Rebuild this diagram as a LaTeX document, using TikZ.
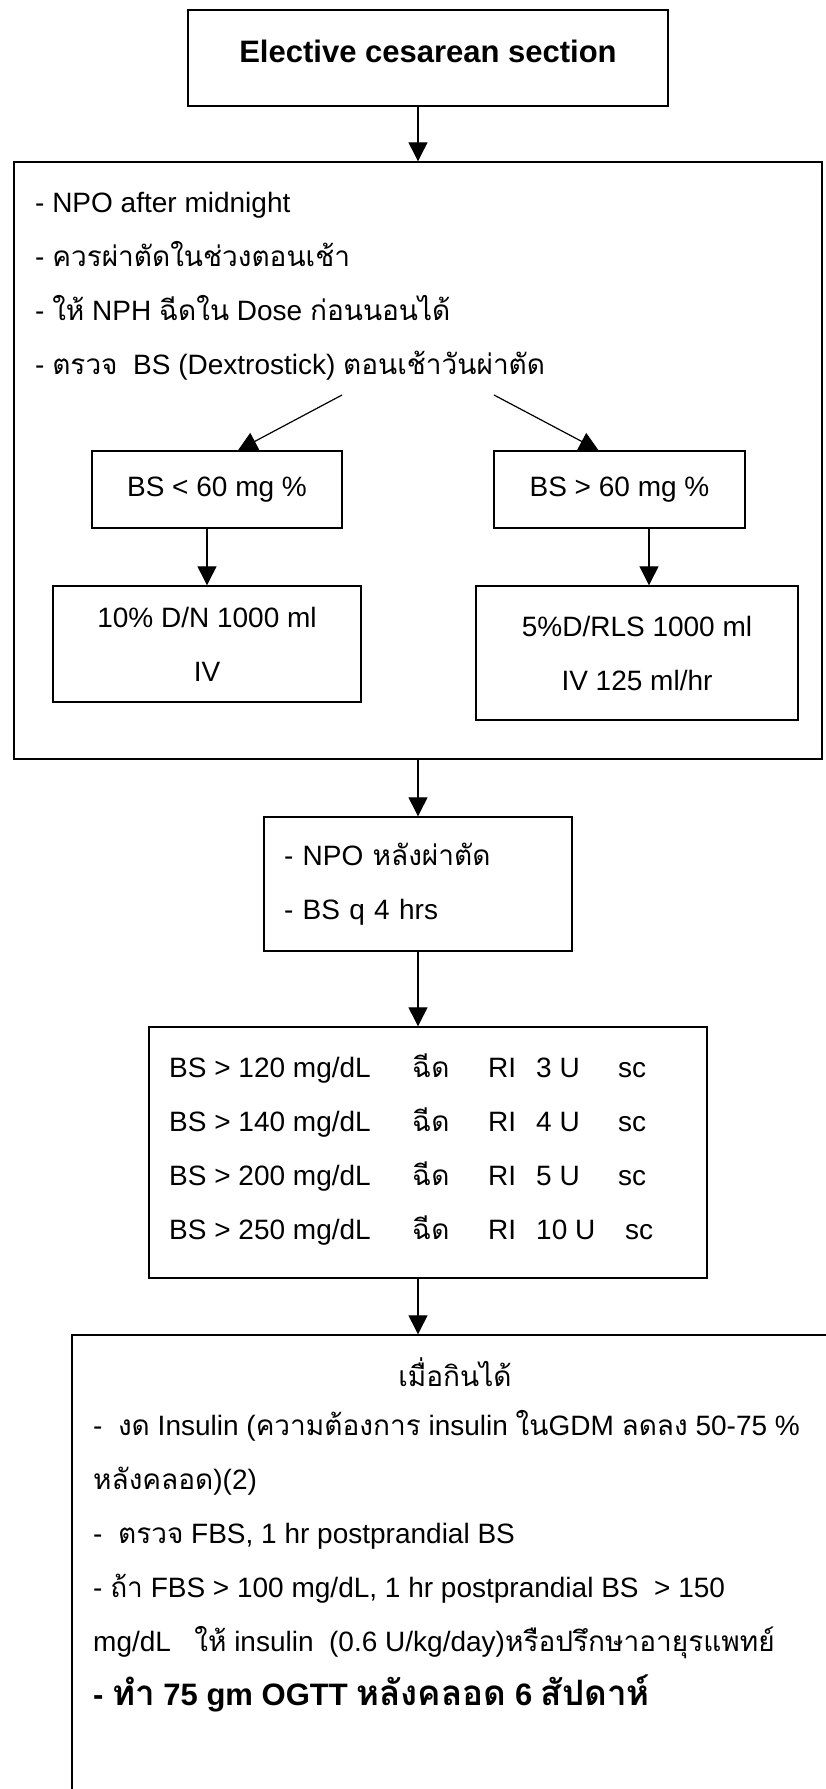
\documentclass[tikz,border=0pt]{standalone}
\usepackage{fontspec}
\setmainfont{Liberation Sans}
\newfontfamily\thaifont[Script=Thai]{Loma}
\newcommand\tha[1]{{\thaifont #1}}
\usetikzlibrary{arrows.meta,positioning}
\tikzset{
  box/.style={draw,line width=1.4pt,inner sep=0pt},
  txt/.style={anchor=west,align=left,inner sep=0pt},
  arr/.style={-{Triangle[width=19pt,length=19pt]},line width=1.2pt},
}
\begin{document}
\begin{tikzpicture}[x=1pt,y=-1pt,font=\fontsize{28}{54}\selectfont]
\useasboundingbox (0,0) rectangle (825,1789);
\node[box,minimum width=480pt,minimum height=96pt,text depth=14pt,font=\fontsize{31}{36}\selectfont\bfseries] (title) at (428,58) {Elective cesarean section};
\node[box,minimum width=808pt,minimum height=597pt] (pre) at (418,460.5) {};
\node[txt] (prelist) at (35,286) {- NPO after midnight\\- \tha{ควรผ่าตัดในช่วงตอนเช้า}\\- \tha{ให้} NPH \tha{ฉีดใน} Dose \tha{ก่อนนอนได้}\\- \tha{ตรวจ}\ \ BS (Dextrostick) \tha{ตอนเช้าวันผ่าตัด}};
\coordinate (sl) at (342,395);\coordinate (sr) at (494,395);
\node[box,minimum width=250pt,minimum height=77pt] (lo) at (217,489.5) {BS < 60 mg \%};
\node[box,minimum width=251pt,minimum height=77pt] (hi) at (619.5,489.5) {BS > 60 mg \%};
\draw[arr] (sl) -- ([xshift=21pt]lo.north);
\draw[arr] (sr) -- ([xshift=-21pt]hi.north);
\node[box,minimum width=308pt,minimum height=116pt,align=center] (dlo) at (207,644) {10\% D/N 1000 ml\\IV};
\node[box,minimum width=322pt,minimum height=134pt,align=center] (dhi) at (637,653) {5\%D/RLS 1000 ml\\IV 125 ml/hr};
\draw[arr] (lo.south -| dlo.north) -- (dlo.north);
\draw[arr] ([xshift=12pt]dhi.north |- hi.south) -- ([xshift=12pt]dhi.north);
\draw[arr] (title.south -| pre.north) -- (pre.north);
% after the operation
\node[box,text width=268pt,inner xsep=20pt,minimum height=134pt,align=left] (post) at (418,884) {- NPO \tha{หลังผ่าตัด}\\- BS q 4 hrs};
\draw[arr] (pre.south) -- (post.north);
\node[box,minimum width=558pt,minimum height=251pt] (ri) at (428,1152.5) {};
\node[txt] (rilist) at (169,1149.5) {%
\makebox[243pt][l]{BS > 120 mg/dL}\makebox[76pt][l]{\tha{ฉีด}}\makebox[48pt][l]{RI}\makebox[82pt][l]{3 U}sc\\
\makebox[243pt][l]{BS > 140 mg/dL}\makebox[76pt][l]{\tha{ฉีด}}\makebox[48pt][l]{RI}\makebox[82pt][l]{4 U}sc\\
\makebox[243pt][l]{BS > 200 mg/dL}\makebox[76pt][l]{\tha{ฉีด}}\makebox[48pt][l]{RI}\makebox[82pt][l]{5 U}sc\\
\makebox[243pt][l]{BS > 250 mg/dL}\makebox[76pt][l]{\tha{ฉีด}}\makebox[48pt][l]{RI}\makebox[89pt][l]{10 U}sc};
\draw[arr] (post.south) -- (post.south |- ri.north);
% when she can eat
\node[box,minimum width=768pt,minimum height=475pt] (eat) at (456,1572.5) {};
\draw[arr] (post.south |- ri.south) -- (post.south |- eat.north);
\node (eathead) at (455,1372) {\tha{เมื่อกินได้}};
\node[txt] (eatlist) at (93,1561) {-\ \ \tha{งด} Insulin (\tha{ความต้องการ} insulin \tha{ใน}GDM \tha{ลดลง} 50-75 \%\\
\tha{หลังคลอด})(2)\\
-\ \ \tha{ตรวจ} FBS, 1 hr postprandial BS\\
- \tha{ถ้า} FBS > 100 mg/dL, 1 hr postprandial BS\ \ > 150\\
mg/dL\ \ \ \tha{ให้} insulin\ \ (0.6 U/kg/day)\tha{หรือปรึกษาอายุรแพทย์}\\
{\fontsize{31}{54}\selectfont\bfseries - {\fontsize{35}{54}\selectfont\tha{ทำ}} 75 gm OGTT {\fontsize{35}{54}\selectfont\tha{หลังคลอด}} 6 {\fontsize{35}{54}\selectfont\tha{สัปดาห์}}}};
\end{tikzpicture}
\end{document}
